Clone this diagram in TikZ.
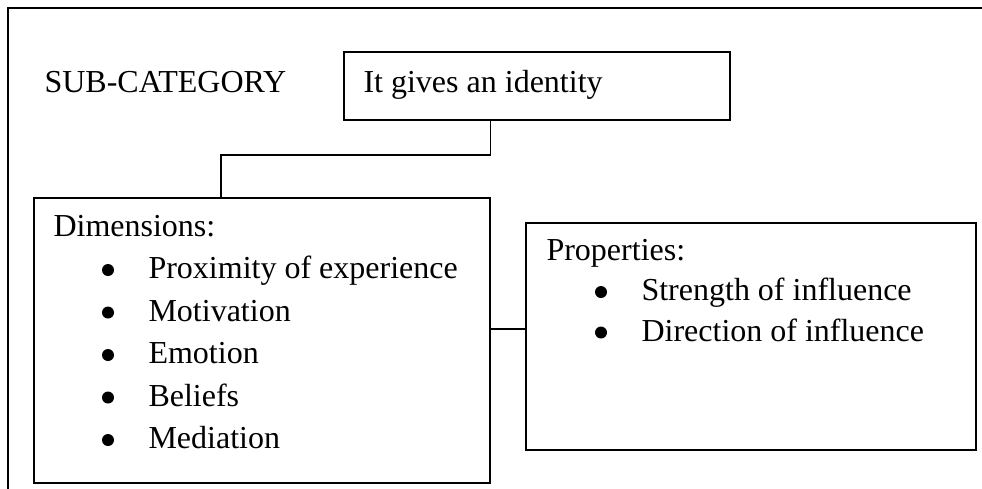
\documentclass[tikz,border=0pt]{standalone}
\usepackage{fontspec}
\setmainfont{Liberation Serif}
\usetikzlibrary{positioning,calc}

\tikzset{
  box/.style={draw,line width=0.6pt,inner sep=0pt,anchor=north west},
  txt/.style={inner sep=0pt,anchor=base west,font=\fontsize{12}{14}\selectfont},
  frame/.style={line width=0.75pt}
}

\begin{document}
\begin{tikzpicture}[x=0.375pt,y=-0.375pt]
    \useasboundingbox (0,0) rectangle (982,488);
    \clip (0,0) rectangle (982,488);
    \draw[frame] (8,8) rectangle (1000,1000);

    % boxes
    \node[box,minimum width=144.75pt,minimum height=25.5pt] (ident) at (343,51) {};
    \node[box,minimum width=171pt,minimum height=106.875pt] (dims) at (33,197) {};
    \node[box,minimum width=168.75pt,minimum height=85.125pt] (props) at (525,222) {};

    % texts
    \node[txt] (sub) at (44,92) {SUB-CATEGORY};
    \node[txt] (identtxt) at (363,92) {It gives an identity};
    \node[txt] (dimhead) at (53,236) {Dimensions:};
    \node[txt] (prophead) at (546,260) {Properties:};
    \foreach \t [count=\i] in {Proximity of experience,Motivation,Emotion,Beliefs,Mediation}{
      \node[txt] (dim\i) at ($(dimhead.base west)+(49,\i*42.5)$) {\hspace*{17.25pt}\t};
      \fill ($(dim\i.base west)+(6,-8.5)$) circle (6);
    }
    \foreach \t [count=\i] in {Strength of influence,Direction of influence}{
      \node[txt] (prop\i) at ($(prophead.base west)+(49,\i*40.5)$) {\hspace*{17.25pt}\t};
      \fill ($(prop\i.base west)+(6,-8.5)$) circle (6);
    }

    % connectors
    \coordinate (elbow) at (221,155);
    \coordinate (link) at (0,329);
    \draw[line width=0.6pt] (ident.south -| dims.east) |- (elbow) -- (elbow |- dims.north);
    \draw[line width=0.6pt] (dims.east |- link) -- (props.west |- link);
\end{tikzpicture}
\end{document}
